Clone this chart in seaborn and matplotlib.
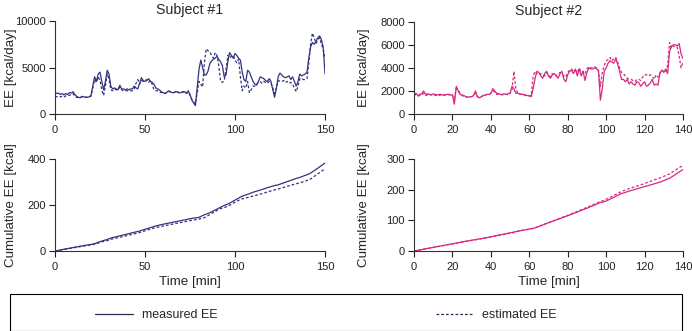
import numpy as np
import pandas as pd
import seaborn as sns
from matplotlib import pyplot as plt
from matplotlib.patches import Rectangle

sns.set_theme(style="ticks")
plt.rcParams["font.family"] = ["Liberation Sans", "DejaVu Sans"]

# Energy expenditure [kcal/day], one value per minute
s1_measured = [
    2300, 2200, 2250, 2100, 2200, 2050, 2200, 2100, 2300, 2250,
    2400, 2100, 1900, 1800, 1750, 1900, 1850, 1800, 1800, 1850,
    2000, 3000, 4000, 3500, 4300, 4500, 3500, 2600, 3500, 4700,
    4300, 3000, 2700, 2800, 2700, 2600, 3100, 2700, 2700, 2600,
    2700, 2600, 2700, 2700, 3000, 2800, 2700, 3300, 3900, 3600,
    3500, 3600, 3800, 3500, 3400, 3200, 2800, 2700, 2600, 2400,
    2300, 2200, 2300, 2500, 2400, 2300, 2300, 2400, 2400, 2300,
    2300, 2400, 2400, 2200, 2500, 2100, 1500, 1200, 900, 2800,
    4800, 5800, 5000, 4200, 4200, 4600, 5400, 5700, 5900, 6000,
    6200, 5900, 5600, 5200, 4000, 4200, 5600, 6600, 6300, 6000,
    6500, 6300, 6000, 5800, 4500, 3700, 3500, 4700, 4500, 4000,
    3500, 3200, 3100, 3500, 4000, 3900, 3800, 3600, 3500, 3800,
    3500, 2600, 1800, 2800, 4000, 4400, 4200, 4000, 3900, 4000,
    4100, 3700, 4000, 3500, 3000, 3500, 4300, 4100, 4200, 4300,
    4500, 6000, 7200, 7700, 7500, 7800, 8200, 8400, 8000, 7200,
    4300,
]
s1_estimated = [
    1900, 1850, 1900, 1850, 1900, 1800, 1950, 2000, 2000, 2100,
    2200, 1900, 1800, 1750, 1750, 1850, 1800, 1800, 1800, 1850,
    1900, 2800, 3700, 3400, 4000, 3600, 2600, 2000, 3000, 4300,
    3800, 2600, 2500, 2700, 2600, 2600, 2900, 2600, 2500, 2500,
    2500, 2500, 2500, 2500, 2700, 3300, 3700, 3200, 3600, 3500,
    3600, 3700, 3400, 3600, 3200, 2600, 2500, 2500, 2400, 2300,
    2300, 2200, 2300, 2400, 2400, 2300, 2300, 2400, 2300, 2300,
    2300, 2400, 2300, 2200, 2400, 2000, 1600, 1300, 1100, 2300,
    3500, 3200, 2900, 5500, 7000, 6800, 6700, 6300, 6000, 6600,
    6300, 5200, 3500, 3400, 3600, 4800, 6300, 6000, 6200, 6300,
    5800, 5500, 5900, 4000, 2500, 3000, 2800, 3500, 2300, 2600,
    3000, 3000, 3200, 3400, 3500, 3300, 3500, 3400, 3300, 3500,
    3300, 2800, 2200, 2800, 3600, 3500, 3500, 3600, 3400, 3500,
    3300, 3400, 3200, 2800, 2400, 3000, 3800, 3800, 3700, 3700,
    3800, 5500, 7500, 8700, 8200, 7600, 8000, 8200, 7500, 7000,
    6000,
]
s2_measured = [
    1700, 1800, 1600, 1700, 1750, 2000, 1700, 1750, 1700, 1650,
    1750, 1700, 1650, 1700, 1700, 1650, 1650, 1700, 1700, 1650,
    1650, 850, 2400, 2000, 1700, 1650, 1600, 1500, 1450, 1500,
    1500, 1600, 2000, 1500, 1400, 1500, 1600, 1650, 1700, 1700,
    1800, 2200, 2000, 1800, 1750, 1700, 1700, 1750, 1700, 1750,
    1800, 2400, 2200, 1800, 1800, 1750, 1700, 1700, 1650, 1600,
    1600, 1500, 2200, 3100, 3700, 3600, 3300, 3100, 3500, 3700,
    3300, 3100, 3400, 3500, 3300, 3100, 3500, 3700, 3000, 2800,
    3400, 3700, 3800, 3500, 3900, 3300, 3900, 3300, 3700, 2900,
    3600, 4000, 3900, 3900, 4000, 3900, 3800, 1200, 2200, 3700,
    4000, 4400, 4600, 4500, 4400, 4800, 4300, 3700, 3000, 3000,
    2800, 3000, 2600, 2800, 2600, 2500, 2800, 2700, 2400, 2600,
    2800, 2400, 2500, 2700, 3000, 2500, 2600, 2500, 3600, 3800,
    3600, 3900, 3500, 5400, 5900, 6000, 6000, 5900, 6100, 5200,
    4800,
]
s2_estimated = [
    1600, 1700, 1550, 1600, 1650, 1800, 1600, 1650, 1600, 1700,
    1650, 1600, 1650, 1600, 1650, 1600, 1650, 1600, 1700, 1600,
    1650, 1300, 2200, 2100, 1800, 1600, 1500, 1500, 1450, 1500,
    1500, 1600, 1800, 1500, 1450, 1500, 1600, 1600, 1700, 1650,
    1800, 2000, 1900, 1700, 1700, 1700, 1650, 1700, 1700, 1650,
    1800, 2100, 3700, 2200, 1800, 1700, 1700, 1650, 1600, 1550,
    1550, 1600, 3300, 3700, 3500, 3400, 3500, 3400, 3300, 3600,
    3400, 3200, 3500, 3400, 3300, 3500, 3600, 3500, 3300, 3200,
    3600, 3800, 3900, 3700, 3800, 3600, 4000, 3600, 3700, 3500,
    3900, 4100, 4000, 4000, 4100, 4000, 3700, 2400, 3600, 4200,
    4600, 4700, 4900, 4600, 4800, 4900, 4500, 4000, 3600, 3500,
    3300, 3100, 3000, 3000, 2900, 2800, 3000, 3000, 2900, 3200,
    3400, 3400, 3300, 3400, 3300, 3000, 3400, 3200, 3500, 3800,
    3700, 3600, 4200, 6200, 5700, 5900, 5800, 5800, 5000, 4000,
    4500,
]

subjects = ["Subject #1", "Subject #2"]
colors = ["#34347e", "#d6297f"]
ee_ticks = [[0, 5000, 10000], [0, 2000, 4000, 6000, 8000]]
cum_ticks = [[0, 200, 400], [0, 100, 200, 300]]
time_ticks = [[0, 50, 100, 150], [0, 20, 40, 60, 80, 100, 120, 140]]

series = [(s1_measured, s1_estimated), (s2_measured, s2_estimated)]

fig = plt.figure(figsize=(6.92, 3.31), dpi=100)
W, H = 692, 331


def px_axes(x0, y0, x1, y1):
    return fig.add_axes([x0 / W, 1 - y1 / H, (x1 - x0) / W, (y1 - y0) / H])


axes = [
    (px_axes(55, 21, 325, 114), px_axes(55, 159, 325, 251)),
    (px_axes(414, 21.7, 683, 114), px_axes(414, 159, 683, 251)),
]

tick_fs = 8
label_fs = 9.6

for i, (meas, est) in enumerate(series):
    minutes = np.arange(len(meas))
    df = pd.DataFrame({"minute": minutes, "measured": meas, "estimated": est})
    # cumulative energy in kcal (kcal/day * 1 min / 1440)
    df["cum_measured"] = df["measured"].cumsum().shift(fill_value=0) / 1440
    df["cum_estimated"] = df["estimated"].cumsum().shift(fill_value=0) / 1440

    ax_top, ax_bot = axes[i]
    for ax, m_col, e_col, yticks in [
        (ax_top, "measured", "estimated", ee_ticks[i]),
        (ax_bot, "cum_measured", "cum_estimated", cum_ticks[i]),
    ]:
        sns.lineplot(data=df, x="minute", y=m_col, ax=ax, color=colors[i], lw=0.9)
        sns.lineplot(data=df, x="minute", y=e_col, ax=ax, color=colors[i], lw=0.9, dashes=False,
                     linestyle=(0, (2.2, 1.6)))
        ax.set_xlim(time_ticks[i][0], time_ticks[i][-1])
        ax.set_ylim(yticks[0], yticks[-1])
        ax.set_xticks(time_ticks[i])
        ax.set_yticks(yticks)
        ax.tick_params(labelsize=tick_fs, length=4, width=0.8, colors="#222222")
        ax.tick_params(axis="x", pad=4)
        ax.tick_params(axis="y", pad=2.5)
        sns.despine(ax=ax)
        for side in ["left", "bottom"]:
            ax.spines[side].set_linewidth(0.8)
            ax.spines[side].set_color("#333333")
        ax.set_xlabel("")

    ax_top.set_ylabel("EE [kcal/day]", fontsize=label_fs)
    ax_bot.set_ylabel("Cumulative EE [kcal]", fontsize=label_fs)
    ax_bot.set_xlabel("Time [min]", fontsize=label_fs, labelpad=3)
    lx = -0.14 if i == 0 else -0.164
    ax_top.yaxis.set_label_coords(lx, 0.5)
    ax_bot.yaxis.set_label_coords(lx, 0.5)
    ax_top.set_title(subjects[i], fontsize=10.2, pad=5)

# legend box along the bottom
fig.add_artist(Rectangle((10 / W, 0), 672 / W, 37 / H, transform=fig.transFigure,
                         fill=False, edgecolor="black", lw=0.8))
handles = [
    plt.Line2D([], [], color="#2a2a50", lw=0.9),
    plt.Line2D([], [], color="#2a2a50", lw=0.9, linestyle=(0, (2.2, 1.6))),
]
fig.legend(handles, ["measured EE", "estimated EE"], loc="center", ncol=2,
           bbox_to_anchor=(326 / W, 16 / H), frameon=False, fontsize=9,
           handlelength=3.0, handletextpad=0.7, columnspacing=17.5)

fig.savefig("out.png", dpi=100)
